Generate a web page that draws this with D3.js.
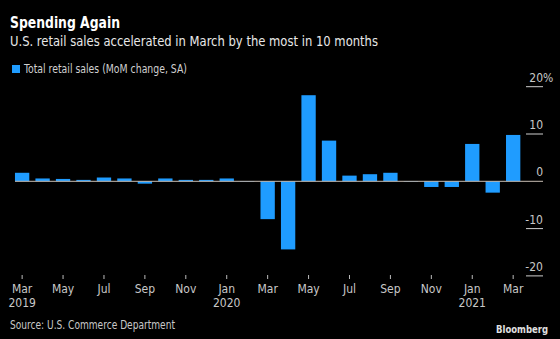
<!DOCTYPE html>
<html>
<head>
<meta charset="utf-8">
<script src="https://cdn.jsdelivr.net/npm/d3@7"></script>
<style>
  html, body { margin: 0; padding: 0; background: #000; }
  svg { display: block; font-family: "DejaVu Sans", sans-serif; font-stretch: condensed; }
  .tick-label { fill: #c8c8c8; font-size: 12px; }
</style>
</head>
<body>
<div id="chart"></div>
<script>
const months = ['2019-03', '2019-04', '2019-05', '2019-06', '2019-07', '2019-08', '2019-09',
  '2019-10', '2019-11', '2019-12', '2020-01', '2020-02', '2020-03', '2020-04', '2020-05',
  '2020-06', '2020-07', '2020-08', '2020-09', '2020-10', '2020-11', '2020-12', '2021-01',
  '2021-02', '2021-03'];
const retail = [1.8, 0.6, 0.5, 0.3, 0.8, 0.6, -0.5, 0.6, 0.3, 0.3, 0.6, -0.1, -8.0, -14.4,
  18.2, 8.6, 1.2, 1.5, 1.8, -0.1, -1.2, -1.2, 7.9, -2.4, 9.8];
const yTicks = [20, 10, 0, -10, -20];
const monthNames = ['Jan', 'Feb', 'Mar', 'Apr', 'May', 'Jun', 'Jul', 'Aug', 'Sep', 'Oct', 'Nov', 'Dec'];

const W = 560, H = 339;
const colors = { BAR: '#1f9cff', ZERO: '#c9bfb4', TICK: '#cfcfcf' };

const svg = d3.select('#chart').append('svg')
  .attr('width', W)
  .attr('height', H);

// headings
svg.append('text')
  .attr('x', 10).attr('y', 28)
  .attr('fill', '#fff')
  .attr('font-size', 15).attr('font-weight', 'bold')
  .attr('textLength', 110).attr('lengthAdjust', 'spacingAndGlyphs')
  .text('Spending Again');

svg.append('text')
  .attr('x', 10).attr('y', 46)
  .attr('fill', '#e8e8e8')
  .attr('font-size', 14.5)
  .attr('textLength', 368).attr('lengthAdjust', 'spacingAndGlyphs')
  .text('U.S. retail sales accelerated in March by the most in 10 months');

svg.append('rect')
  .attr('x', 12).attr('y', 65).attr('width', 8).attr('height', 8)
  .attr('fill', colors.BAR);
svg.append('text')
  .attr('x', 24).attr('y', 73)
  .attr('fill', '#d0d0d0')
  .attr('font-size', 11.5)
  .attr('textLength', 163).attr('lengthAdjust', 'spacingAndGlyphs')
  .text('Total retail sales (MoM change, SA)');

// scales
const x = d3.scaleBand()
  .domain(months)
  .range([11.9, 523.4])
  .paddingInner(0.3)
  .paddingOuter(0.15);

const y = d3.scaleLinear()
  .domain([-20, 20])
  .range([275.9, 86.7]);

// y axis on right
const gY = svg.append('g');
yTicks.forEach((t) => {
  if (t !== 0) {
    gY.append('line')
      .attr('x1', 526).attr('x2', 543)
      .attr('y1', y(t)).attr('y2', y(t))
      .attr('stroke', colors.TICK).attr('stroke-width', 1);
  }
  gY.append('text')
    .attr('class', 'tick-label')
    .attr('x', 543)
    .attr('y', y(t) - 5)
    .attr('text-anchor', 'end')
    .text(t);
  if (t === 20) {
    gY.append('text')
      .attr('class', 'tick-label')
      .attr('x', 543)
      .attr('y', y(t) - 5)
      .text('%');
  }
});

// bars
svg.append('g').selectAll('rect')
  .data(retail)
  .join('rect')
  .attr('x', (d, i) => x(months[i]))
  .attr('width', x.bandwidth())
  .attr('y', (d) => y(Math.max(0, d)))
  .attr('height', (d) => Math.abs(y(d) - y(0)))
  .attr('fill', colors.BAR);

// zero line
svg.append('line')
  .attr('x1', 15).attr('x2', 543)
  .attr('y1', y(0)).attr('y2', y(0))
  .attr('stroke', colors.ZERO).attr('stroke-width', 1);

// x axis
const gX = svg.append('g');
months.forEach((m, i) => {
  if (i % 2 !== 0) return;
  const cx = x(m) + x.bandwidth() / 2;
  const [yr, mo] = m.split('-').map(Number);
  gX.append('line')
    .attr('x1', cx).attr('x2', cx)
    .attr('y1', 275).attr('y2', 279)
    .attr('stroke', '#bbb');
  gX.append('text')
    .attr('class', 'tick-label')
    .attr('x', cx).attr('y', 293)
    .attr('text-anchor', 'middle')
    .text(monthNames[mo - 1]);
  if (i === 0 || mo === 1) {
    gX.append('text')
      .attr('class', 'tick-label')
      .attr('x', cx).attr('y', 307)
      .attr('text-anchor', 'middle')
      .text(yr);
  }
});

// footer
svg.append('text')
  .attr('x', 10).attr('y', 329)
  .attr('fill', '#c8c8c8')
  .attr('font-size', 11.5)
  .attr('textLength', 165).attr('lengthAdjust', 'spacingAndGlyphs')
  .text('Source: U.S. Commerce Department');

svg.append('text')
  .attr('x', 496).attr('y', 333)
  .attr('fill', '#e0e0e0')
  .attr('font-size', 10.5).attr('font-weight', 'bold')
  .attr('textLength', 52).attr('lengthAdjust', 'spacingAndGlyphs')
  .text('Bloomberg');
</script>
</body>
</html>
